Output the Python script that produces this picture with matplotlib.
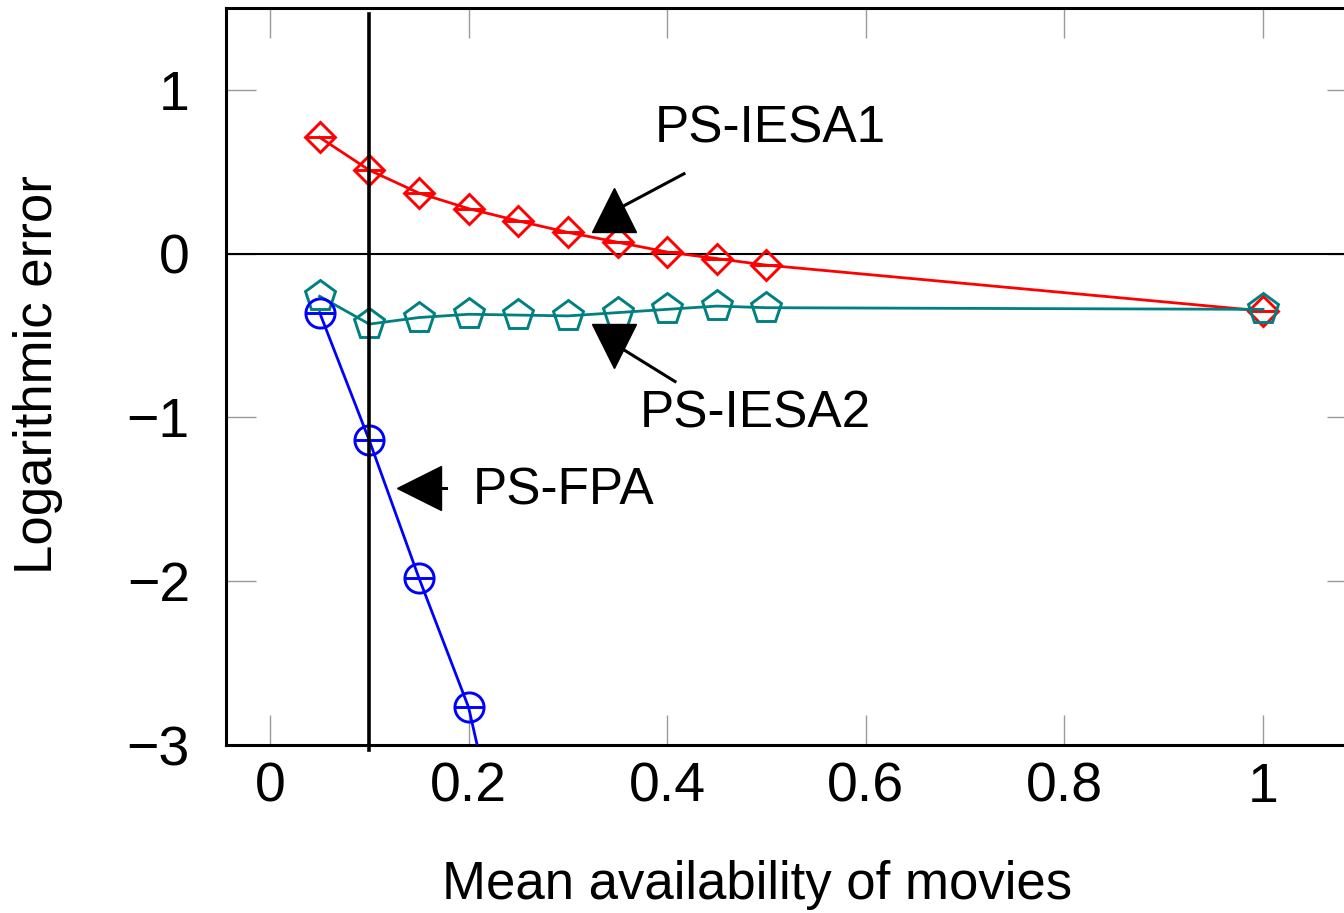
import matplotlib
matplotlib.use("Agg")
import matplotlib.pyplot as plt

plt.rcParams['font.family'] = ['Liberation Sans', 'DejaVu Sans']

# Data
x_iesa1 = [0.05, 0.10, 0.15, 0.20, 0.25, 0.30, 0.35, 0.40, 0.45, 0.50, 1.00]
y_iesa1 = [0.71, 0.51, 0.37, 0.275, 0.20, 0.13, 0.07, 0.01, -0.03, -0.07, -0.35]

x_iesa2 = [0.05, 0.10, 0.15, 0.20, 0.25, 0.30, 0.35, 0.40, 0.45, 0.50, 1.00]
y_iesa2 = [-0.26, -0.43, -0.39, -0.37, -0.375, -0.38, -0.36, -0.34, -0.32, -0.33, -0.34]

x_fpa = [0.05, 0.10, 0.15, 0.20, 0.25]
y_fpa = [-0.36, -1.14, -1.98, -2.77, -4.1]

x_ticks = [0, 0.2, 0.4, 0.6, 0.8, 1]
x_ticklabels = ['0', '0.2', '0.4', '0.6', '0.8', '1']
y_ticks = [-3, -2, -1, 0, 1]

vline_x = 0.1

W, H = 1344, 913
fig = plt.figure(figsize=(W / 100, H / 100), dpi=100)
left, right, top, bottom = 226, 1357, 8, 745
ax = fig.add_axes([left / W, 1 - bottom / H, (right - left) / W, (bottom - top) / H])
ax.set_xlim(-0.0443, 1.0947)
ax.set_ylim(-3, 1.5)

teal = '#008080'
lw = 2.0
mew = 2.1
# PS-IESA1
ax.plot(x_iesa1, y_iesa1, color='red', lw=lw, marker='D', ms=15, mfc='none', mew=mew, zorder=4)
ax.plot(x_iesa1, y_iesa1, color='red', lw=0, marker='_', ms=21, mew=mew, zorder=4)
# PS-IESA2
ax.plot(x_iesa2, y_iesa2, color=teal, lw=lw, marker='p', ms=23, mfc='none', mew=mew, zorder=4)
# PS-FPA
ax.plot(x_fpa, y_fpa, color='blue', lw=lw, marker='o', ms=21, mfc='none', mew=mew, zorder=4)
ax.plot(x_fpa, y_fpa, color='blue', lw=0, marker='_', ms=21, mew=mew, zorder=4)

# reference lines
ax.axhline(0, color='black', lw=1.5, zorder=3)
ax.plot([vline_x, vline_x], [1.463, -3.03], color='black', lw=2.6, clip_on=False, zorder=5)

# annotations (triangle marker + line + text)
def px2d(px, py):
    return (px - 270) / 993.0, (253 - py) / 164.0

# PS-IESA1
a, b = px2d(684, 173), px2d(624, 205)
ax.plot([a[0], b[0]], [a[1], b[1]], color='black', lw=2.2, zorder=6)
t = px2d(614, 209)
ax.plot([t[0]], [t[1]], marker='^', ms=31, color='black', zorder=6)
p = px2d(655, 128)
ax.text(p[0], p[1], 'PS-IESA1', fontsize=37, ha='left', va='center', zorder=6)

# PS-IESA2
a, b = px2d(675, 381), px2d(625, 350)
ax.plot([a[0], b[0]], [a[1], b[1]], color='black', lw=2.2, zorder=6)
t = px2d(614, 345)
ax.plot([t[0]], [t[1]], marker='v', ms=31, color='black', zorder=6)
p = px2d(640, 414)
ax.text(p[0], p[1], 'PS-IESA2', fontsize=37, ha='left', va='center', zorder=6)

# PS-FPA
a, b = px2d(430, 488), px2d(446, 488)
ax.plot([a[0], b[0]], [a[1], b[1]], color='black', lw=2.2, zorder=6)
t = px2d(419, 488)
ax.plot([t[0]], [t[1]], marker='<', ms=31, color='black', zorder=6)
p = px2d(473, 491)
ax.text(p[0], p[1], 'PS-FPA', fontsize=37, ha='left', va='center', zorder=6)

# ticks
ax.set_xticks(x_ticks)
ax.set_xticklabels(x_ticklabels)
ax.set_yticks(y_ticks)
ax.tick_params(axis='both', direction='in', length=21.5, width=1.0, color='#999999',
               labelsize=40, top=True, right=True)
ax.tick_params(axis='x', pad=12)
ax.tick_params(axis='y', pad=26)
for s in ax.spines.values():
    s.set_linewidth(2.2)
    s.set_color('black')

fig.text(757 / W, 1 - 885 / H, 'Mean availability of movies', fontsize=38, ha='center', va='center')
fig.text(38 / W, 1 - 375 / H, 'Logarithmic error', fontsize=38, ha='center', va='center', rotation=90)

fig.savefig('out.png', dpi=100)
